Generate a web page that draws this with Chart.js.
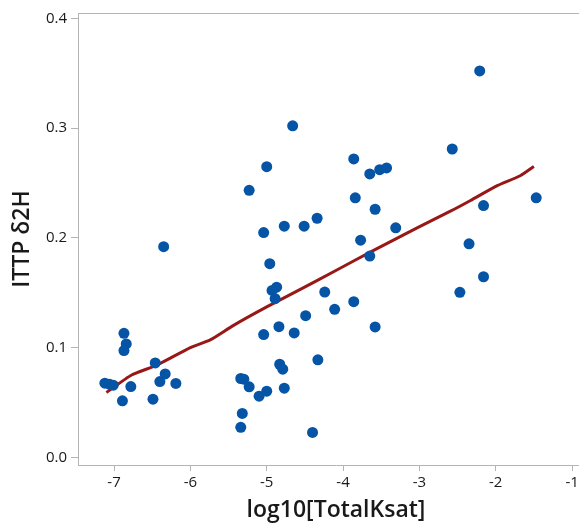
<!DOCTYPE html>
<html>
<head>
<meta charset="utf-8">
<script src="https://cdn.jsdelivr.net/npm/chart.js@4"></script>
<style>
  html, body { margin: 0; padding: 0; background: #fff; overflow: hidden; }
  #container { width: 600px; height: 525px; }
</style>
</head>
<body>
<div id="container"><canvas id="myChart"></canvas></div>
<script>
// observations: log10 of total Ksat vs ITTP d2H
let ksat = [
  -7.12, -7.06, -7.01, -6.87, -6.84, -6.87, -6.78, -6.89, -6.46, -6.33,
  -6.40, -6.19, -6.49, -6.35,
  -5.34, -5.30, -5.23, -5.10, -5.00, -5.04, -5.32, -5.34,
  -4.66, -5.00, -5.23, -5.04, -4.96, -4.87, -4.93, -4.89, -4.84, -4.77,
  -4.83, -4.79, -4.77, -4.64, -4.51, -4.49, -4.34, -4.33, -4.40, -4.24, -4.11,
  -3.86, -3.65, -3.52, -3.43, -3.84, -3.58, -3.31, -3.77, -3.65, -3.86, -3.58,
  -2.57, -2.21, -1.47, -2.16, -2.35, -2.16, -2.47
];
let d2H = [
  0.0675, 0.0666, 0.0657, 0.113, 0.1033, 0.0973, 0.0645, 0.0515, 0.086, 0.076,
  0.069, 0.0673, 0.053, 0.1919,
  0.0718, 0.0712, 0.0642, 0.0557, 0.0603, 0.1118, 0.040, 0.0273,
  0.302, 0.2648, 0.2433, 0.2048, 0.1764, 0.155, 0.152, 0.1445, 0.119, 0.063,
  0.0848, 0.0803, 0.2106, 0.1133, 0.2106, 0.129, 0.2178, 0.0888, 0.0227, 0.1505, 0.1348,
  0.2718, 0.2582, 0.2621, 0.2636, 0.2364, 0.226, 0.2091, 0.1978, 0.1833, 0.1418, 0.1188,
  0.2809, 0.352, 0.2364, 0.2294, 0.1945, 0.1645, 0.1503
];

// smoother through the cloud
let fitX = [-7.1, -6.77, -6.44, -6.0, -5.74, -5.44, -5.0, -4.56, -4.1, -3.6, -3.03, -2.6, -2.33, -1.98, -1.68, -1.5];
let fitY = [0.059, 0.075, 0.084, 0.100, 0.107, 0.120, 0.137, 0.153, 0.170, 0.1885, 0.209, 0.224, 0.234, 0.2475, 0.2565, 0.265];

let xTicks = [-7, -6, -5, -4, -3, -2, -1];
let yTicks = [0.0, 0.1, 0.2, 0.3, 0.4];

let pointColor = 'rgb(5,84,166)';
let fitColor = 'rgb(152,24,24)';
let axisColor = 'rgb(180,180,180)';
let textColor = 'rgb(25,25,25)';

function toPoints(xs, ys) {
  let result = [];
  for (var i = 0; i < xs.length; i++) {
    result.push({x: xs[i], y: ys[i]});
  }
  return result;
}

// top edge of the plot frame
let frame = {
  id: 'frame',
  afterDraw(chart) {
    let a = chart.chartArea;
    let c = chart.ctx;
    c.save();
    c.strokeStyle = axisColor;
    c.lineWidth = 1;
    c.beginPath();
    c.moveTo(a.left, a.top + 0.5);
    c.lineTo(a.right, a.top + 0.5);
    c.stroke();
    c.restore();
  }
};

let tickFont = {family: 'Open Sans', size: 15};
let titleFont = {family: 'Open Sans', size: 23, weight: '600'};

let ctx = document.getElementById('myChart').getContext('2d');
let chart = new Chart(ctx, {
  type: 'scatter',
  data: {
    datasets: [
      {
        data: toPoints(ksat, d2H),
        backgroundColor: pointColor,
        borderColor: pointColor,
        borderWidth: 0,
        pointRadius: 5.5
      },
      {
        data: toPoints(fitX, fitY),
        showLine: true,
        borderColor: fitColor,
        borderWidth: 3,
        pointRadius: 0,
        tension: 0.2
      }
    ]
  },
  options: {
    responsive: true,
    maintainAspectRatio: false,
    animation: false,
    layout: {padding: {top: 12, right: 6, left: 0, bottom: 0}},
    plugins: {legend: {display: false}, tooltip: {enabled: false}},
    scales: {
      x: {
        type: 'linear',
        min: -7.472,
        max: -0.713,
        afterBuildTicks: s => { s.ticks = xTicks.map(v => ({value: v})); },
        afterFit: s => { s.height = 60; },
        grid: {drawOnChartArea: false, drawTicks: true, tickLength: 6, color: axisColor},
        border: {color: axisColor},
        ticks: {font: tickFont, color: textColor, padding: 3, maxRotation: 0, callback: v => String(v)},
        title: {display: true, text: 'log10[TotalKsat]', font: titleFont, color: textColor, padding: {top: 0, bottom: 1}}
      },
      y: {
        type: 'linear',
        min: -0.007,
        max: 0.4048,
        afterBuildTicks: s => { s.ticks = yTicks.map(v => ({value: v})); },
        afterFit: s => { s.width = 78; },
        grid: {drawOnChartArea: false, drawTicks: true, tickLength: 7, color: axisColor},
        border: {color: axisColor},
        ticks: {font: tickFont, color: textColor, padding: 4, callback: v => v.toFixed(1)},
        title: {display: true, text: 'ITTP δ2H', font: titleFont, color: textColor, padding: {top: 9, bottom: 0}}
      }
    }
  },
  plugins: [frame]
});
</script>
</body>
</html>
